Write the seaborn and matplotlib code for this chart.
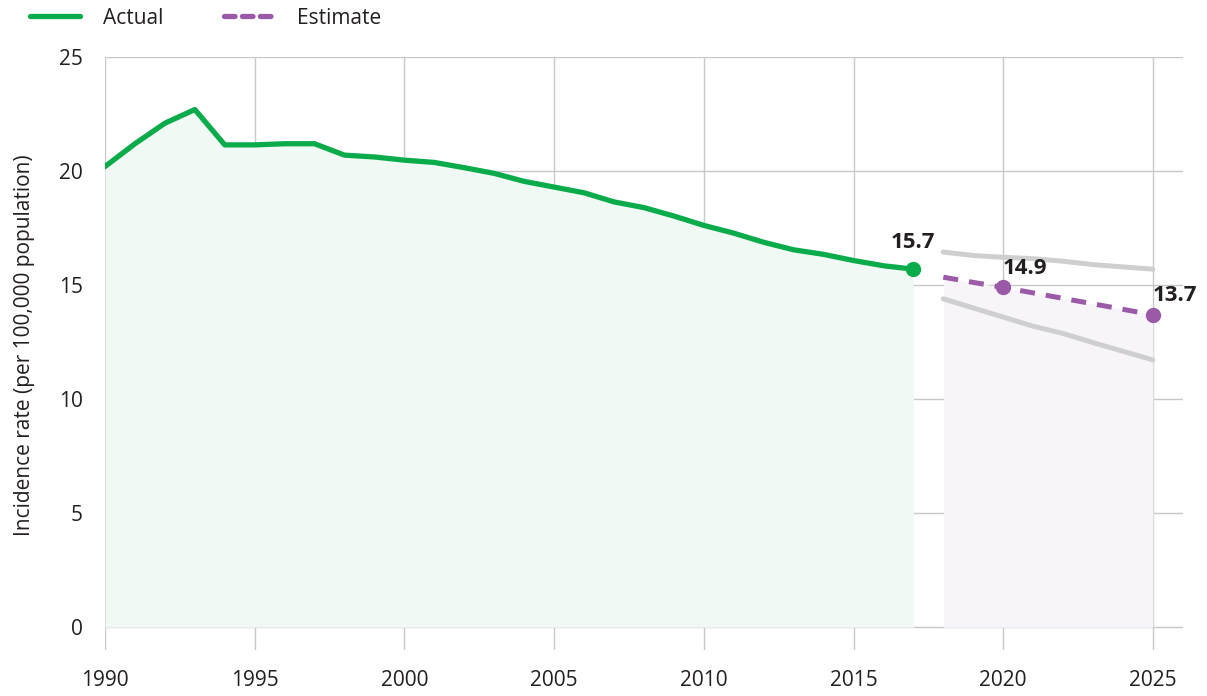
import numpy as np
import pandas as pd
import matplotlib
matplotlib.use("Agg")
import matplotlib.pyplot as plt
from matplotlib.lines import Line2D
import seaborn as sns

# data
years_actual = list(range(1990, 2018))
rate_actual = [20.2, 21.2, 22.1, 22.7, 21.15, 21.15, 21.2, 21.2, 20.7, 20.62,
               20.48, 20.38, 20.15, 19.9, 19.55, 19.3, 19.05, 18.65, 18.4, 18.03,
               17.62, 17.28, 16.88, 16.55, 16.35, 16.08, 15.85, 15.7]

years_est = list(range(2018, 2026))
rate_est = [15.35, 15.12, 14.9, 14.66, 14.42, 14.18, 13.94, 13.7]
rate_upper = [16.45, 16.3, 16.22, 16.16, 16.05, 15.9, 15.8, 15.7]
rate_lower = [14.4, 14.0, 13.6, 13.2, 12.88, 12.48, 12.1, 11.72]

labelled_est_years = [2020, 2025]

df_actual = pd.DataFrame({"year": years_actual, "rate": rate_actual})
df_est = pd.DataFrame({"year": years_est, "rate": rate_est,
                       "upper": rate_upper, "lower": rate_lower})

green = "#0aab4a"
purple = "#9b5aa8"
band_grey = "#cfcfd1"
text_col = "#231f20"

sns.set_style("white")
plt.rcParams['font.family'] = ['Open Sans', 'DejaVu Sans']

fig = plt.figure(figsize=(12.07, 6.96), dpi=100)
ax = fig.add_axes([0.087, 0.066, 0.893, 0.852])

# shaded areas under the lines
ax.fill_between(df_actual["year"], 0, df_actual["rate"], color="#f0f9f3", lw=0, zorder=1)
ax.fill_between(df_est["year"], 0, df_est["rate"], color="#f7f5f9", lw=0, zorder=1)

# grey uncertainty lines
sns.lineplot(data=df_est, x="year", y="upper", color=band_grey, lw=3.6, ax=ax, zorder=3)
sns.lineplot(data=df_est, x="year", y="lower", color=band_grey, lw=3.6, ax=ax, zorder=3)

# actual and estimate
sns.lineplot(data=df_actual, x="year", y="rate", color=green, lw=3.8, ax=ax, zorder=4)
sns.lineplot(data=df_est, x="year", y="rate", color=purple, lw=3.6, ax=ax, zorder=4,
             dashes=False, linestyle=(0, (3, 2.2)))

last = df_actual.iloc[-1]
ax.plot(last["year"], last["rate"], "o", color=green, ms=10, zorder=5)
ax.text(last["year"], last["rate"] + 0.72, f"{last['rate']:.1f}", ha="center",
        va="bottom", fontsize=16, fontweight="bold", color=text_col)

pts = df_est[df_est["year"].isin(labelled_est_years)]
ax.plot(pts["year"], pts["rate"], "o", color=purple, ms=10, zorder=5)
for _, r in pts.iterrows():
    ax.text(r["year"] + 0.72, r["rate"] + 0.38, f"{r['rate']:.1f}", ha="center",
            va="bottom", fontsize=16, fontweight="bold", color=text_col)

# axes styling
ax.set_xlim(1990, 2026)
ax.set_ylim(-1, 25)
ax.set_xticks(range(1990, 2026, 5))
ax.set_yticks(range(0, 26, 5))
ax.grid(True, color="#c8c8c8", lw=1)
ax.set_axisbelow(True)
for s in ax.spines.values():
    s.set_visible(False)
ax.tick_params(axis="both", length=0, labelsize=15, colors=text_col)
ax.tick_params(axis="x", pad=14)
ax.tick_params(axis="y", pad=16)
ax.set_xlabel("")
ax.set_ylabel("Incidence rate (per 100,000 population)", fontsize=15, color=text_col)
ax.yaxis.set_label_coords(-0.065, 0.514)

# legend
handles = [Line2D([], [], color=green, lw=3.8, solid_capstyle="round"),
           Line2D([], [], color=purple, lw=3.8, linestyle=(0, (2, 1.4)), dash_capstyle="round")]
fig.legend(handles, ["Actual", "Estimate"], loc="center left",
           bbox_to_anchor=(30 / 1207, 1 - 18 / 696), borderaxespad=0, borderpad=0,
           ncol=2, frameon=False, fontsize=15, handlelength=2.4, columnspacing=2.9,
           handletextpad=1.1, labelcolor=text_col)

fig.savefig("out.png", dpi=100)
